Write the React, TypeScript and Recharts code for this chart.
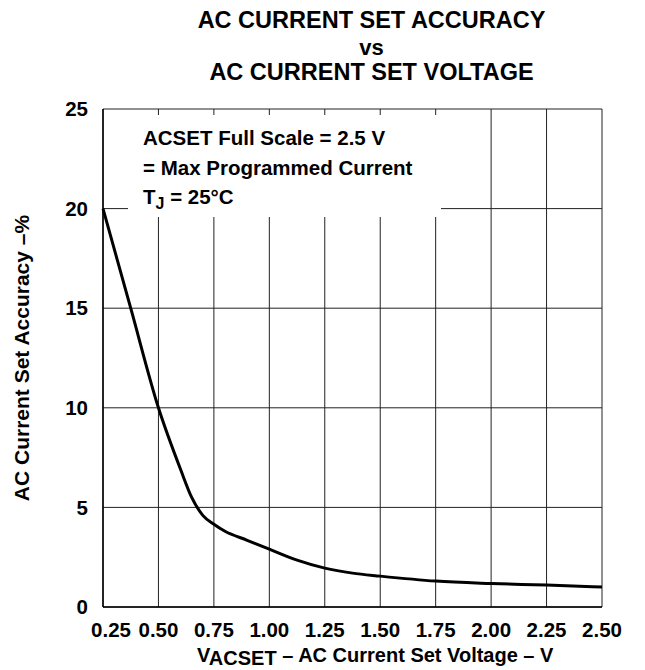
import React from "react"
import { LineChart, Line, XAxis, YAxis, CartesianGrid } from "recharts"

const voltage = [0.25, 0.375, 0.5, 0.6, 0.65, 0.7, 0.75, 0.8, 0.9, 1.0, 1.125, 1.25, 1.375, 1.5, 1.75, 2.0, 2.25, 2.5]
const accuracy = [20, 15, 10, 6.9, 5.5, 4.6, 4.15, 3.8, 3.35, 2.9, 2.35, 1.95, 1.7, 1.55, 1.3, 1.18, 1.1, 1.0]
const xTicks = [0.25, 0.5, 0.75, 1.0, 1.25, 1.5, 1.75, 2.0, 2.25, 2.5]
const yTicks = [0, 5, 10, 15, 20, 25]

const title = ["AC CURRENT SET ACCURACY", "vs", "AC CURRENT SET VOLTAGE"]
const notes = ["ACSET Full Scale = 2.5 V", "= Max Programmed Current"]

const data = voltage.map((v, i) => ({ v, acc: accuracy[i] }))

const font = "'Liberation Sans', Arial, sans-serif"
const tickStyle = { fill: "#000", fontSize: 20.5, fontWeight: 700, fontFamily: font }

function XTick(props: any) {
  const { x, y, payload, index } = props
  // first label sits a little right of its grid line, as in the original
  const dx = index === 0 ? 8 : 0
  return (
    <text x={x + dx} y={y} dy="0.71em" textAnchor="middle" {...tickStyle}>
      {payload.value.toFixed(2)}
    </text>
  )
}

export default function App() {
  return (
    <div style={{ position: "absolute", left: 0, top: 0, width: 645, height: 670, background: "#fff" }}>
      <LineChart width={645} height={670} data={data} margin={{ top: 109, right: 43, bottom: 0, left: 0 }}>
        <CartesianGrid stroke="#222" strokeWidth={1} />
        <XAxis
          dataKey="v"
          type="number"
          domain={[0.25, 2.5]}
          ticks={xTicks}
          height={63}
          tickLine={false}
          tickSize={0}
          tickMargin={15}
          axisLine={{ stroke: "#000", strokeWidth: 1.5 }}
          tick={<XTick />}
        />
        <YAxis
          type="number"
          domain={[0, 25]}
          ticks={yTicks}
          width={103}
          tickLine={false}
          tickSize={0}
          tickMargin={15}
          axisLine={{ stroke: "#000", strokeWidth: 1.5 }}
          tick={tickStyle}
        />
        <Line type="monotone" dataKey="acc" stroke="#000" strokeWidth={3} dot={false} isAnimationActive={false} />
      </LineChart>

      <svg width={645} height={670} style={{ position: "absolute", left: 0, top: 0, pointerEvents: "none" }} fontFamily={font} fontWeight={700} fill="#000">
        <text x={371.5} y={28.3} textAnchor="middle" fontSize={23.5}>{title[0]}</text>
        <text x={371.5} y={55} textAnchor="middle" fontSize={22}>{title[1]}</text>
        <text x={371.5} y={80} textAnchor="middle" fontSize={23.5}>{title[2]}</text>

        <rect x={128} y={115} width={313} height={102} fill="#fff" />
        <text x={143} y={145} fontSize={20.5}>{notes[0]}</text>
        <text x={143} y={175} fontSize={20.5}>{notes[1]}</text>
        <text x={143} y={204} fontSize={20.5}>
          T<tspan fontSize={16} dy={5}>J</tspan>
          <tspan dy={-5}> = 25°C</tspan>
        </text>

        <text x={29} y={358} transform="rotate(-90 29 358)" textAnchor="middle" fontSize={21}>
          AC Current Set Accuracy –%
        </text>

        <text x={197} y={662} fontSize={20}>
          V<tspan dy={3}>ACSET</tspan>
          <tspan dy={-3}> – AC Current Set Voltage – V</tspan>
        </text>
      </svg>
    </div>
  )
}
